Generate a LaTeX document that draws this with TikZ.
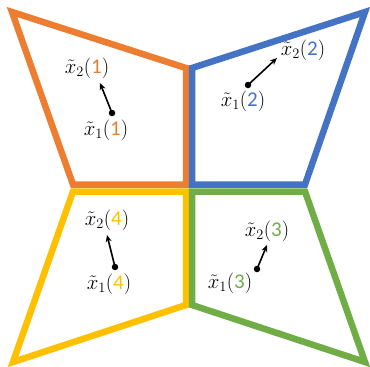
\documentclass[tikz,border=0pt]{standalone}
\usepackage{fontspec}
\newfontfamily\digfont{Carlito}
\usetikzlibrary{arrows.meta}
\definecolor{corange}{HTML}{ED7D31}
\definecolor{cblue}{HTML}{4472C4}
\definecolor{cyellow}{HTML}{FFC000}
\definecolor{cgreen}{HTML}{70AD47}
\tikzset{
  region/.style={line width=6.5pt, line join=miter},
  lbl/.style={inner sep=0pt, font=\fontsize{21}{24}\selectfont},
  move/.style={line width=1.6pt, -{Stealth[length=7pt,width=6pt]}},
  dotmark/.style={fill=black, circle, inner sep=0pt, minimum size=6.5pt}
}
\newcommand{\xl}[3]{$\tilde{x}_{#1}(\mbox{\color{#2}\digfont #3})$}
\begin{document}
\begin{tikzpicture}[x=1pt,y=-1pt]
\useasboundingbox (0,0) rectangle (370,367);
% orange
\coordinate (o1) at (12,12);
\coordinate (o2) at (186,68);
\coordinate (o3) at (186,184.5);
\coordinate (o4) at (73,184.5);
\draw[region, corange] (o1) -- (o2) -- (o3) -- (o4) -- cycle;
% blue
\coordinate (b1) at (192,68);
\coordinate (b2) at (365,12);
\coordinate (b3) at (305,184.5);
\coordinate (b4) at (192,184.5);
\draw[region, cblue] (b1) -- (b2) -- (b3) -- (b4) -- cycle;
% yellow
\coordinate (y1) at (73,191.5);
\coordinate (y2) at (186,191.5);
\coordinate (y3) at (186,305);
\coordinate (y4) at (13,362);
\draw[region, cyellow] (y1) -- (y2) -- (y3) -- (y4) -- cycle;
% green
\coordinate (g1) at (192,191.5);
\coordinate (g2) at (305,191.5);
\coordinate (g3) at (365,362);
\coordinate (g4) at (192,305);
\draw[region, cgreen] (g1) -- (g2) -- (g3) -- (g4) -- cycle;
% labels
\node[lbl] (l21) at (87,68) {\xl{2}{corange}{1}};
\node[lbl] (l11) at (106,130) {\xl{1}{corange}{1}};
\node[lbl] (l22) at (303,50) {\xl{2}{cblue}{2}};
\node[lbl] (l12) at (243,101) {\xl{1}{cblue}{2}};
\node[lbl] (l24) at (107,220) {\xl{2}{cyellow}{4}};
\node[lbl] (l14) at (109,284) {\xl{1}{cyellow}{4}};
\node[lbl] (l23) at (267,231) {\xl{2}{cgreen}{3}};
\node[lbl] (l13) at (230,283) {\xl{1}{cgreen}{3}};
% arrows
\node[dotmark] (d1) at (112,113) {};
\coordinate (t1) at (100,83);
\draw[move] (d1.center) -- (t1);
\node[dotmark] (d2) at (248,85) {};
\coordinate (t2) at (277,58);
\draw[move] (d2.center) -- (t2);
\node[dotmark] (d4) at (115,267) {};
\coordinate (t4) at (107,235);
\draw[move] (d4.center) -- (t4);
\node[dotmark] (d3) at (257,269) {};
\coordinate (t3) at (267,245);
\draw[move] (d3.center) -- (t3);
\end{tikzpicture}
\end{document}
